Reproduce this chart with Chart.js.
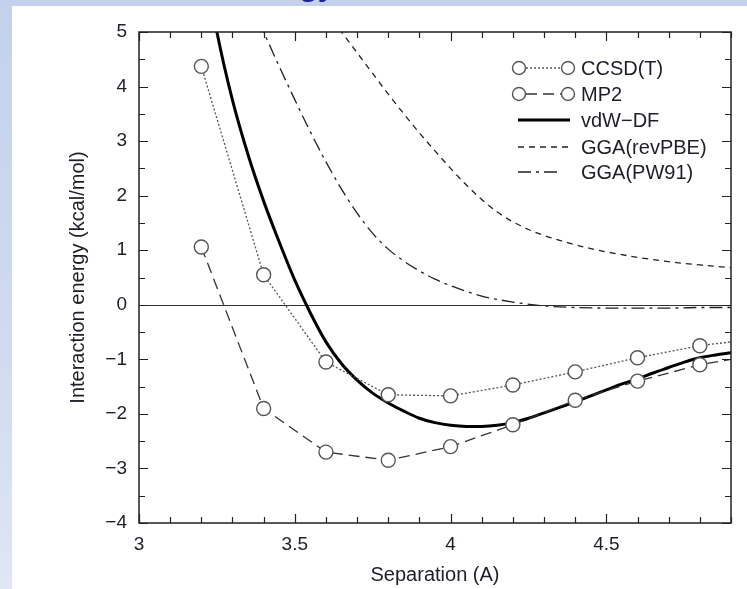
<!DOCTYPE html>
<html>
<head>
<meta charset="utf-8">
<script src="https://cdn.jsdelivr.net/npm/chart.js@4.4.1/dist/chart.umd.min.js"></script>
<style>
  html, body { margin: 0; padding: 0; }
  body {
    width: 747px; height: 589px; overflow: hidden; position: relative;
    background: linear-gradient(180deg, #c3d1ec 0%, #d0dbef 60%, #dfe6f4 100%);
    font-family: "Liberation Sans", Arial, sans-serif;
  }
  #slide-title {
    position: absolute; left: 236px; top: -31px;
    font: bold 30px "Liberation Sans", Arial, sans-serif; color: #1b22a6;
    white-space: nowrap;
  }
  #panel { position: absolute; left: 12px; top: 6px; right: 0; bottom: 0; background: #fff; }
  #wrap { position: absolute; left: 0; top: 0; width: 747px; height: 589px; }
</style>
</head>
<body>
<div id="slide-title">energy</div>
<div id="panel"></div>
<div id="wrap"><canvas id="chart" width="747" height="589"></canvas></div>
<script>
// Dữ liệu
const xTicks = [3, 3.5, 4, 4.5];
const yTicks = [-4, -3, -2, -1, 0, 1, 2, 3, 4, 5];

// CCSD(T) và MP2: các điểm tính toán (điểm 5.0 chỉ để nối đường ra mép)
const ccsdX = [3.2, 3.4, 3.6, 3.8, 4.0, 4.2, 4.4, 4.6, 4.8, 5.0];
const ccsdY = [4.37, 0.55, -1.05, -1.65, -1.67, -1.47, -1.23, -0.97, -0.75, -0.61];
const mp2X = [3.2, 3.4, 3.6, 3.8, 4.0, 4.2, 4.4, 4.6, 4.8, 5.0];
const mp2Y = [1.06, -1.9, -2.7, -2.85, -2.6, -2.2, -1.75, -1.4, -1.1, -0.9];

// vdW-DF (đường liền)
const vdwX = [3.2, 3.25, 3.3, 3.35, 3.4, 3.45, 3.5, 3.55, 3.6, 3.65, 3.7, 3.75, 3.8, 3.85, 3.9, 3.95,
  4.0, 4.05, 4.1, 4.15, 4.2, 4.25, 4.3, 4.35, 4.4, 4.45, 4.5, 4.55, 4.6, 4.65, 4.7, 4.75, 4.8, 4.85, 4.9];
const vdwY = [6.6, 5.0, 3.75, 2.75, 1.9, 1.15, 0.45, -0.15, -0.68, -1.08, -1.38, -1.62, -1.8, -1.95, -2.08, -2.16,
  -2.21, -2.23, -2.23, -2.21, -2.16, -2.08, -1.98, -1.88, -1.78, -1.67, -1.56, -1.45, -1.36, -1.25, -1.15, -1.05, -0.97, -0.92, -0.88];

// GGA(revPBE)
const revX = [3.6, 3.65, 3.7, 3.75, 3.8, 3.85, 3.9, 3.95, 4.0, 4.05, 4.1, 4.15, 4.2, 4.25, 4.3, 4.35,
  4.4, 4.45, 4.5, 4.6, 4.7, 4.8, 4.9];
const revY = [5.38, 5.0, 4.62, 4.24, 3.86, 3.5, 3.15, 2.82, 2.5, 2.2, 1.93, 1.7, 1.52, 1.38, 1.27, 1.18,
  1.1, 1.03, 0.97, 0.87, 0.79, 0.73, 0.68];

// GGA(PW91)
const pwX = [3.35, 3.4, 3.45, 3.5, 3.55, 3.6, 3.65, 3.7, 3.75, 3.8, 3.85, 3.9, 3.95, 4.0, 4.1, 4.2,
  4.3, 4.4, 4.5, 4.6, 4.7, 4.8, 4.9];
const pwY = [5.64, 5.0, 4.37, 3.76, 3.17, 2.62, 2.12, 1.68, 1.31, 1.02, 0.8, 0.62, 0.47, 0.35, 0.16, 0.05,
  -0.02, -0.05, -0.06, -0.06, -0.06, -0.05, -0.05];

const labels = ['CCSD(T)', 'MP2', 'vdW\u2212DF', 'GGA(revPBE)', 'GGA(PW91)'];

const pts = (xs, ys) => xs.map((x, i) => ({ x, y: ys[i] }));
const FONT = '"Liberation Sans", Arial, sans-serif';

const styles = [
  { color: '#555', width: 1.3, dash: [2, 2], marker: true },
  { color: '#333', width: 1.3, dash: [11, 6], marker: true },
  { color: '#000', width: 3, dash: [], marker: false },
  { color: '#222', width: 1.3, dash: [6, 5], marker: false },
  { color: '#222', width: 1.3, dash: [13, 5, 3, 5], marker: false }
];

// --- Plugin: khung, vạch chia hướng vào trong, đường y=0, chú thích ---
const framePlugin = {
  id: 'frame',
  beforeDatasetsDraw(chart) {
    const { ctx, chartArea: a, scales: { y } } = chart;
    ctx.save();
    ctx.strokeStyle = '#333';
    ctx.lineWidth = 1.2;
    const y0 = Math.round(y.getPixelForValue(0)) + 0.5;
    ctx.beginPath();
    ctx.moveTo(a.left, y0);
    ctx.lineTo(a.right, y0);
    ctx.stroke();
    ctx.restore();
  },
  afterDraw(chart) {
    const { ctx, chartArea: a, scales: { x, y } } = chart;
    ctx.save();
    ctx.strokeStyle = '#222';
    ctx.lineWidth = 1.5;
    ctx.strokeRect(a.left, a.top, a.right - a.left, a.bottom - a.top);
    ctx.lineWidth = 1.2;
    ctx.beginPath();
    for (let i = 0; i <= 19; i++) {
      const v = 3 + i * 0.1;
      const px = Math.round(x.getPixelForValue(v)) + 0.5;
      const len = (i % 5 === 0) ? 9 : 6;
      ctx.moveTo(px, a.bottom); ctx.lineTo(px, a.bottom - len);
      ctx.moveTo(px, a.top); ctx.lineTo(px, a.top + len);
    }
    for (let i = 0; i <= 18; i++) {
      const v = -4 + i * 0.5;
      const py = Math.round(y.getPixelForValue(v)) + 0.5;
      const len = (i % 2 === 0) ? 9 : 6;
      ctx.moveTo(a.left, py); ctx.lineTo(a.left + len, py);
      ctx.moveTo(a.right, py); ctx.lineTo(a.right - len, py);
    }
    ctx.stroke();

    // Chú thích
    const rows = [68, 94, 120, 147, 172];
    ctx.font = '20px ' + FONT;
    ctx.textBaseline = 'middle';
    styles.forEach((s, i) => {
      const yy = rows[i];
      ctx.strokeStyle = s.color;
      ctx.lineWidth = s.width;
      ctx.setLineDash(s.dash);
      ctx.beginPath();
      if (s.marker) { ctx.moveTo(526, yy); ctx.lineTo(561, yy); }
      else if (i === 4) { ctx.moveTo(518, yy); ctx.lineTo(562, yy); }
      else { ctx.moveTo(518, yy); ctx.lineTo(570, yy); }
      ctx.stroke();
      ctx.setLineDash([]);
      if (s.marker) {
        [519, 568].forEach(cx => {
          ctx.beginPath();
          ctx.arc(cx, yy, 6.5, 0, Math.PI * 2);
          ctx.fillStyle = '#fff';
          ctx.fill();
          ctx.strokeStyle = '#555';
          ctx.lineWidth = 1.4;
          ctx.stroke();
        });
      }
      ctx.fillStyle = '#1e1e28';
      ctx.fillText(labels[i], 581, yy + 1);
    });
    ctx.restore();
  }
};

const datasets = [
  [ccsdX, ccsdY], [mp2X, mp2Y], [vdwX, vdwY], [revX, revY], [pwX, pwY]
].map(([xs, ys], i) => {
  const s = styles[i];
  return {
    label: labels[i],
    data: pts(xs, ys),
    borderColor: s.color,
    borderWidth: s.width,
    borderDash: s.dash,
    fill: false,
    tension: 0,
    cubicInterpolationMode: s.marker ? 'default' : 'monotone',
    pointRadius: s.marker ? (c => (c.raw && c.raw.x > 4.9 ? 0 : 7)) : 0,
    pointBackgroundColor: '#fff',
    pointBorderColor: '#555',
    pointBorderWidth: 1.4,
    order: s.marker ? 0 : 1
  };
});

const ctx = document.getElementById('chart').getContext('2d');
const chart = new Chart(ctx, {
  type: 'line',
  data: { datasets },
  options: {
    responsive: false,
    animation: false,
    events: [],
    layout: { padding: { top: 32, right: 16, left: 0, bottom: 0 } },
    plugins: { legend: { display: false }, tooltip: { enabled: false } },
    scales: {
      x: {
        type: 'linear', min: 3, max: 4.9,
        afterFit: s => { s.height = 66; },
        afterBuildTicks: s => { s.ticks = xTicks.map(v => ({ value: v })); },
        grid: { display: false, drawTicks: false },
        border: { display: false },
        ticks: {
          color: '#1e1e28', font: { family: FONT, size: 19 }, padding: 10, maxRotation: 0,
          callback: v => String(v)
        },
        title: { display: true, text: 'Separation (A)', color: '#1e1e28', font: { family: FONT, size: 20 }, padding: { top: 0, bottom: 2 } }
      },
      y: {
        type: 'linear', min: -4, max: 5,
        afterFit: s => { s.width = 139; },
        afterBuildTicks: s => { s.ticks = yTicks.map(v => ({ value: v })); },
        grid: { display: false, drawTicks: false },
        border: { display: false },
        ticks: {
          color: '#1e1e28', font: { family: FONT, size: 19 }, padding: 12,
          callback: v => (v < 0 ? '\u2212' + Math.abs(v) : String(v))
        },
        title: { display: true, text: 'Interaction energy (kcal/mol)', color: '#1e1e28', font: { family: FONT, size: 20 }, padding: { top: 66, bottom: 0 } }
      }
    }
  },
  plugins: [framePlugin]
});
</script>
</body>
</html>
